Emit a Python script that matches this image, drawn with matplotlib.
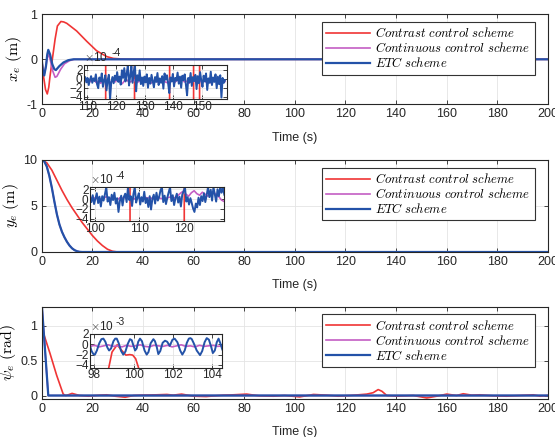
import numpy as np
import matplotlib
matplotlib.use('Agg')
import matplotlib.pyplot as plt

plt.rcParams['font.family'] = ['Liberation Sans', 'DejaVu Sans']
plt.rcParams['mathtext.fontset'] = 'cm'

# ---- main curves ----
# x_e
t_x_red = [0, 0.7, 1.5, 2.2, 2.8, 3.3, 4.2, 5.3, 6.2, 7.6, 8.7, 9.9, 13.8, 17.8, 21.7, 25.7, 28.3, 32, 36, 40, 200]
x_red = [0, -0.37, -0.67, -0.77, -0.62, -0.37, 0, 0.45, 0.74, 0.84, 0.83, 0.80, 0.63, 0.40, 0.19, 0.06, 0.02, 0.005, 0.0, 0.0, 0.0]
t_x_mag = [0, 0.4, 1.0, 1.7, 2.2, 2.7, 3.4, 4.3, 5.3, 6.0, 7.5, 9, 11, 13, 200]
x_mag = [0, -0.2, -0.33, -0.15, 0.05, 0.1, -0.02, -0.25, -0.4, -0.38, -0.22, -0.1, -0.03, 0, 0]
t_x_blue = [0, 0.4, 1.0, 1.7, 2.2, 2.6, 3.3, 4.2, 5.0, 5.6, 7.0, 8.6, 10.5, 12.5, 200]
x_blue = [0, -0.22, -0.36, -0.15, 0.11, 0.21, 0.11, -0.11, -0.22, -0.24, -0.15, -0.07, -0.02, 0, 0]

# y_e
t_y_red = [0, 2, 4, 6, 8, 10, 12, 14, 16, 18, 20, 22, 24, 26, 28, 30, 200]
y_red = [10, 9.7, 8.9, 7.8, 6.7, 5.7, 4.8, 4.0, 3.2, 2.5, 1.8, 1.2, 0.7, 0.3, 0.08, 0, 0]
t_y_blue = [0, 1, 2, 3, 4, 5, 6, 7, 8, 9, 10, 11, 12, 13, 14, 15, 16, 200]
y_blue = [10, 9.85, 9.3, 8.3, 7.0, 5.5, 4.1, 3.0, 2.2, 1.6, 1.1, 0.7, 0.4, 0.2, 0.08, 0.02, 0, 0]
y_mag = y_blue

# psi_e
t_p_red = [0, 3.3, 5.9, 8.5, 9.5, 10.5, 12, 13.5, 15, 18.5, 23, 25.7, 29, 33, 36.4, 39, 45.5, 49.5, 52,
           55.3, 60, 65, 71.8, 75.8, 81, 86, 91.6, 96, 102, 107.4, 112.6, 117.2, 121.9, 128.5, 131,
           133, 134.5, 136.4, 140.3, 146.9, 152.2, 156.1, 160.1, 164, 166.6, 170, 173.2, 178.5,
           183.8, 189, 194.3, 197, 200]
p_red = [0.97, 0.6, 0.29, 0.02, 0.0, 0.01, 0.03, 0.015, 0.0, -0.01, 0.005, 0.01, -0.01, -0.025, 0.0, 0.005,
         0.01, 0.015, 0.005, 0.02, -0.01, -0.015, 0.005, 0.01, 0.02, -0.005, -0.01, 0.0, -0.02, 0.015,
         0.005, -0.01, 0.0, 0.02, 0.04, 0.085, 0.06, 0.0, -0.01, 0.0, -0.035, -0.01, 0.02, 0.0, 0.025,
         0.005, 0.01, -0.005, -0.01, 0.0, 0.01, -0.01, 0.0]
t_p_blue = [0, 2.6, 200]
p_blue = [1.32, 0.0, 0.0]
p_mag = p_blue

# ---- zoomed details ----
# inset 1: x_e, x1e-4, t in [108.8, 158.2]
in1_blue = [-0.3, 0.4, -0.8, 0.2, -1.4, -0.2, 0.6, -0.9, 0.1, -0.5,
            1.0, -1.2, -2.1, 0.3, -0.6, 1.2, -1.8, -0.4, 0.8, -2.6,
            -0.2, 0.9, -4.6, -0.8, 0.4, -1.0, 0.7, -0.3, 1.5, -0.7,
            0.5, -1.3, 1.9, 0.2, 2.4, -0.6, 1.1, 3.0, -1.5, 0.6,
            2.8, -0.9, 1.6, 3.1, -2.8, 0.8, -0.4, 1.9, -1.2, 0.3,
            -1.6, 0.5, -0.8, 1.0, -2.0, 0.2, -1.1, 0.9, -0.5, -1.9,
            0.4, -0.7, 1.3, -1.4, 0.1, -0.9, 0.6, -2.2, 1.2, -0.2,
            0.8, -1.0, -3.2, 0.3, -0.6, 1.1, -1.7, 0.2, -0.4, 1.4,
            -1.1, 0.5, -2.0, 0.7, -0.3, 1.0, -1.3, -3.7, 0.2, -0.8,
            1.3, -1.6, 0.4, -0.5, 0.9, -2.3, 0.6, -1.0, 1.5, -0.4,
            -1.8, 0.7, -0.6, 1.2, -2.5, 0.1, -0.9, 1.6, -1.4, 0.3,
            -0.7, 1.0, -2.1, 0.5, -1.2, 0.8, -4.2, 0.2, -0.9, -0.3]
in1_mag = [-0.6, -0.2, -0.9, -0.4, -0.1, -0.8, -0.5, -1.0, -0.3, -0.6,
           -0.2, -0.9, -0.5, -0.7, -0.1, -0.6, -1.1, -0.4, -0.3, -0.8,
           -0.5, -0.2, -0.9, -0.6, -0.4, -0.7, -0.1, -0.6, -1.0, -0.5,
           -0.3, -0.8, -0.6, -0.2, -0.7, -0.9, -0.4, -0.5, -0.8, -0.3,
           -0.6, -0.1, -0.7, -0.5, -1.0, -0.4, -0.6, -0.2, -0.8, -0.5,
           -0.4, -0.7, -0.3, -0.9, -0.6, -0.2, -0.5, -0.8, -0.4, -0.6]
in1_t_red = [108.8, 116.35, 116.45, 126.45, 126.55, 138.75, 138.85, 147.15, 147.25, 149.25, 149.35, 158.2]
in1_red = [-50, -50, 50, 50, -50, -50, 50, 50, -50, -50, 50, 50]

# inset 2: y_e, x1e-4, t in [98.9, 129.1]
in2_blue = [0.3, -0.6, 0.8, -1.0, 0.1, 1.2, -0.8, 0.5, -1.5, 0.6, -0.3, 1.0, 2.4, -0.5, 0.4, -1.2, 0.9, -0.2,
            1.3, -0.9, 0.2, -2.6, -0.4, 0.7, -1.3, 0.5, 1.1, -0.6, 2.4, -0.2, 0.6, -1.4, 1.0, 2.4, -0.7,
            0.3, 1.2, -1.1, 0.4, -0.5, 1.5, -0.8, 0.2, -1.6, 0.6, -2.1, 0.1, 0.9, -0.9, 1.3, -0.3, 0.5,
            1.8, 2.4, -0.6, 0.7, -1.0, 0.3, 1.4, 2.4, -0.4, 0.8, -1.2, 0.2, 1.1, -0.7, 0.5, -1.5, 0.9,
            1.6, 2.4, -0.5, 0.4, -1.1, 0.2, -0.8, -1.9, -2.6, -0.9, -1.7, 0.3, -1.2, 0.6, -0.4, 1.2,
            -0.6, 0.8, 2.4, 0.4, 1.9, -0.3, 2.4, 1.0, -0.5, 2.0, 0.6, 2.4, 1.3, 2.4, 0.9]
in2_mag = [0.2, 0.4, 0.1, 0.3, 0.0, 0.2, 0.5, 0.1, 0.3, 0.2, -0.1, 0.3, 0.2, 0.4, 0.1, 0.2, 0.0, 0.3,
           0.2, 0.1, 0.4, 0.2, 0.3, 0.0, 0.2, 0.3, 0.1, 0.3, 0.2, 0.4, 0.2, 0.3, 0.7, 1.2, 1.6, 1.0,
           0.6, 1.3, 1.7, 1.1, 0.8, 1.4, 1.0, 0.6, 1.2, 1.5, 0.9, 0.5, -0.2, -0.5]
in2_t_red = [98.9, 107.85, 107.95, 120.05, 120.15, 129.1]
in2_red = [50, 50, -50, -50, 50, 50]

# inset 3: psi_e, x1e-3, t in [97.8, 104.5]
in3_t_blue = [97.78, 97.86, 97.95, 98.03, 98.13, 98.25, 98.36, 98.46, 98.56, 98.66, 98.75, 98.85, 98.97,
              99.06, 99.14, 99.24, 99.36, 99.47, 99.58, 99.70, 99.81, 99.90, 99.99, 100.07, 100.15,
              100.23, 100.32, 100.42, 100.55, 100.66, 100.75, 100.86, 101.0, 101.08, 101.17, 101.25,
              101.35, 101.47, 101.59, 101.70, 101.83, 101.97, 102.08, 102.22, 102.36, 102.47, 102.59,
              102.70, 102.80, 102.88, 102.95, 103.05, 103.20, 103.37, 103.48, 103.60, 103.71, 103.82,
              103.92, 104.02, 104.12, 104.22, 104.31, 104.40, 104.50]
in3_blue = [-0.3, -1.3, -1.9, -2.0, -1.2, 0.2, 1.0, 1.1, 0.5, -0.6, -1.2, -0.8, 0.6,
            1.1, 1.1, 0.2, -1.3, -2.0, -1.4, 0.1, 1.0, 0.8, -0.3, -1.2, -0.8,
            0.5, 1.1, 0.6, -1.2, -2.0, -1.5, 0.2, 1.0, 0.6, -0.5, -1.9,
            -1.3, 0.3, 0.7, 0.5, -0.3, 0.9, 1.1, 0.4, -1.2, -2.0, -1.2,
            0.3, 1.1, 1.2, 1.0, 0.2, -1.2, -2.1, -1.3, 0.4, 1.2, 0.9,
            -0.3, -1.7, -1.2, 0.4, 1.1, 0.2, -1.0]
in3_mag = [-0.4, -0.2, -0.5, -0.3, -0.1, -0.4, -0.3, -0.5, -0.2, -0.4, -0.3, -0.1, -0.4, -0.5, -0.2,
           -0.3, -0.4, -0.2, -0.5, -0.3, -0.1, -0.4, -0.3, -0.5, -0.2, -0.4, -0.3, -0.2, -0.4, -0.3]
in3_t_red = [97.78, 98.6, 98.73, 98.9, 99.16, 99.35, 99.6, 99.8, 99.95, 100.1, 100.25, 100.4, 104.5]
in3_red = [-8, -8, -4.6, -1.5, -0.1, -1.0, -2.1, -2.0, -2.1, -2.8, -4.6, -8, -8]

labels = [r'$Contrast\ control\ scheme$', r'$Continuous\ control\ scheme$', r'$ETC\ scheme$']
c_red, c_mag, c_blue = '#f03535', '#c45ec4', '#2352a8'

W, H = 555, 437


def px_box(x0, y0, x1, y1):
    return [x0 / W, 1 - y1 / H, (x1 - x0) / W, (y1 - y0) / H]


def style(ax, fs=9):
    ax.tick_params(direction='in', top=True, right=True, length=3, width=0.6,
                   labelsize=fs, colors='#262626', pad=3)
    ax.grid(True, color='#e4e4e4', lw=0.6)
    ax.set_axisbelow(True)
    for s in ax.spines.values():
        s.set_linewidth(0.8)
        s.set_color('#262626')


def exp_label(ax, e):
    ax.text(0.0, 1.03, r'$\times$10', transform=ax.transAxes, fontsize=8.5, ha='left', va='bottom', color='#262626')
    ax.text(0.19, 1.2, e, transform=ax.transAxes, fontsize=7.5, ha='left', va='bottom', color='#262626')


fig = plt.figure(figsize=(5.55, 4.37), dpi=100)

boxes = [px_box(41.7, 14.3, 547.7, 104.3), px_box(41.7, 160, 547.7, 252), px_box(41.7, 306.7, 547.7, 399)]
series = [
    [(t_x_red, x_red), (t_x_mag, x_mag), (t_x_blue, x_blue)],
    [(t_y_red, y_red), (t_y_blue, y_mag), (t_y_blue, y_blue)],
    [(t_p_red, p_red), (t_p_blue, p_mag), (t_p_blue, p_blue)],
]
ylims = [(-1, 1), (0, 10), (-0.05, 1.27)]
yticks = [[-1, 0, 1], [0, 5, 10], [0, 0.5, 1]]
ylabels = [r'$x_e\ (\mathrm{m})$', r'$y_e\ (\mathrm{m})$', r'$\psi_e\ (\mathrm{rad})$']

for k in range(3):
    ax = fig.add_axes(boxes[k])
    style(ax)
    (tr, vr), (tm, vm), (tb, vb) = series[k]
    ax.plot(tr, vr, color=c_red, lw=1.2, label=labels[0])
    ax.plot(tm, vm, color=c_mag, lw=1.2, label=labels[1])
    ax.plot(tb, vb, color=c_blue, lw=1.6, label=labels[2])
    ax.set_xlim(0, 200)
    ax.set_xticks(range(0, 201, 20))
    ax.set_ylim(*ylims[k])
    ax.set_yticks(yticks[k])
    ax.set_yticklabels([str(v) for v in yticks[k]])
    ax.set_xlabel('Time (s)', fontsize=9, color='#262626', labelpad=8)
    ax.set_ylabel(ylabels[k], fontsize=11.5, labelpad=2)
    leg = ax.legend(loc='upper right', bbox_to_anchor=(0.975, 0.918), fontsize=9.1, frameon=True,
                    fancybox=False, framealpha=1, edgecolor='#333333', handlelength=3.5,
                    handletextpad=0.4, labelspacing=0.08, borderpad=0.35, borderaxespad=0)
    leg.get_frame().set_linewidth(0.8)

# insets
ins = fig.add_axes(px_box(84, 65, 226.7, 99.3))
style(ins, 8.5)
ins.plot(in1_t_red, in1_red, color=c_red, lw=1.2)
ins.plot(np.linspace(108.8, 158.2, len(in1_mag)), in1_mag, color=c_mag, lw=1.2)
ins.plot(np.linspace(108.8, 158.2, len(in1_blue)), in1_blue, color=c_blue, lw=1.4)
ins.set_xlim(108.8, 158.8)
ins.set_ylim(-4.6, 3.1)
ins.set_xticks([110, 120, 130, 140, 150])
ins.set_yticks([-4, -2, 0, 2])
ins.tick_params(pad=1)
exp_label(ins, '-4')

ins = fig.add_axes(px_box(90, 187.3, 224.3, 221.3))
style(ins, 8.5)
ins.plot(in2_t_red, in2_red, color=c_red, lw=1.2)
ins.plot(np.linspace(98.9, 129.1, len(in2_mag)), in2_mag, color=c_mag, lw=1.2)
ins.plot(np.linspace(98.9, 129.1, len(in2_blue)), in2_blue, color=c_blue, lw=1.4)
ins.set_xlim(98.9, 129.1)
ins.set_ylim(-4.5, 2.4)
ins.set_xticks([100, 110, 120])
ins.set_yticks([-4, -2, 0, 2])
ins.tick_params(pad=1)
exp_label(ins, '-4')

ins = fig.add_axes(px_box(90, 334, 222.3, 368))
style(ins, 8.5)
ins.plot(in3_t_red, in3_red, color=c_red, lw=1.2)
ins.plot(np.linspace(97.78, 104.5, len(in3_mag)), in3_mag, color=c_mag, lw=1.2)
ins.plot(in3_t_blue, in3_blue, color=c_blue, lw=1.4)
ins.set_xlim(97.78, 104.5)
ins.set_ylim(-4.6, 2.0)
ins.set_xticks([98, 100, 102, 104])
ins.set_yticks([-4, -2, 0, 2])
ins.tick_params(pad=1)
exp_label(ins, '-3')

fig.savefig('out.png', dpi=100)
